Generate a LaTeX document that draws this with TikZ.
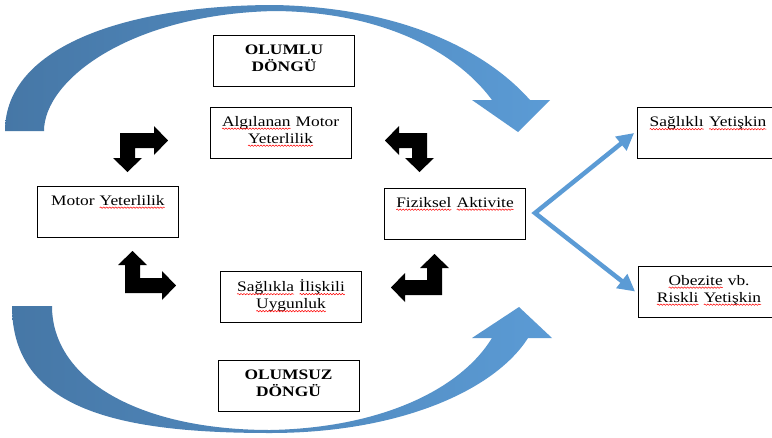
\documentclass[tikz,border=0pt]{standalone}
\usepackage{fontspec}
\setmainfont{Liberation Serif}[FakeStretch=1.2]
\usetikzlibrary{arrows.meta,decorations.pathmorphing}
\definecolor{arcdark}{RGB}{70,119,166}
\definecolor{arclight}{RGB}{91,155,213}
% red spell-check wave under a word
\newcommand{\sq}[1]{\tikz[baseline=(w.base)]{\node[draw=none,inner sep=0pt,outer sep=0pt,
		text width={},minimum width=0pt,minimum height=0pt] (w) {#1};
	\draw[red,line width=0.5pt,decorate,decoration={snake,amplitude=0.7pt,segment length=3pt}]
		([yshift=-2.2pt]w.base west) -- ([yshift=-2.2pt]w.base east);}}

\begin{document}
\begin{tikzpicture}[x=1pt,y=-1pt,
	box/.style={draw,line width=0.8pt,minimum width=141pt,minimum height=51pt,
		text width=137pt,align=center,inner sep=0pt,
		font=\fontsize{14.5}{17}\selectfont},
	loopbox/.style={box,font=\fontsize{14.5}{17}\selectfont\bfseries},
	splitarrow/.style={arclight,line width=4.5pt,
		{Triangle[length=17pt,width=17pt]}-{Triangle[length=17pt,width=17pt]}}]
	\fill[white] (0,0) rectangle (772,437);
	\useasboundingbox (0,0) rectangle (772,437);
	% big loop arrows
	\shade[left color=arcdark,right color=arclight]
		(5,131) .. controls (5,45) and (130,5) .. (275,5)
		.. controls (410,8) and (490,55) .. (530,100)
		-- (550,100) -- (518,132) -- (472,100) -- (492,100)
		.. controls (455,50) and (380,12) .. (275,11)
		.. controls (130,14) and (44,80) .. (44,131) -- cycle;
	\shade[left color=arcdark,right color=arclight]
		(12,306) .. controls (12,410) and (120,433) .. (270,433)
		.. controls (400,433) and (495,390) .. (528,338)
		-- (552,338) -- (519,307) -- (472,338) -- (492,338)
		.. controls (460,390) and (380,428) .. (270,430)
		.. controls (140,430) and (52,380) .. (52,306) -- cycle;
	% boxes
	\node[loopbox] (goodloop) at (284,61) {OLUMLU\\DÖNGÜ\strut};
	\node[box] (perceived) at (280.5,132.5) {\sq{Algılanan} Motor\\\sq{Yeterlilik}\strut};
	\node[box] (motor) at (108,211.5) {Motor \sq{Yeterlilik}\\\strut};
	\node[box] (activity) at (455,213.5) {\sq{Fiziksel} \sq{Aktivite}\\\strut};
	\node[box] (fitness) at (291,297) {\sq{Sağlıkla} \sq{İlişkili}\\\sq{Uygunluk}\strut};
	\node[loopbox] (badloop) at (288.5,386) {OLUMSUZ\\DÖNGÜ\strut};
	\node[box] (healthy) at (708,133) {\sq{Sağlıklı} \sq{Yetişkin}\\\strut};
	\node[box] (risky) at (709,291.5) {\sq{Obezite} vb.\\\sq{Riskli} \sq{Yetişkin}\strut};
	% bent black arrows: corner x/y, flips, arm lengths
	\foreach \cx/\cy/\sx/\sy/\a/\b in {120/133/1/1/48/39, 427/133/-1/1/42/39,
			125/293/1/-1/51/42, 442/295/-1/-1/51/41}
	\fill[shift={(\cx,\cy)},xscale=\sx,yscale=\sy]
		(0,0) -- (\a-14,0) -- (\a-14,-7) -- (\a,7.5) -- (\a-14,22) -- (\a-14,15)
		-- (15,15) -- (15,\b-14) -- (22,\b-14) -- (7.5,\b) -- (-7,\b-14)
		-- (0,\b-14) -- cycle;
	% outcome arrows
	\coordinate (fork) at (535,213);
	\draw[splitarrow] ([xshift=-3pt]healthy.west) -- (fork) -- ([xshift=-3pt]risky.west);
\end{tikzpicture}
\end{document}
